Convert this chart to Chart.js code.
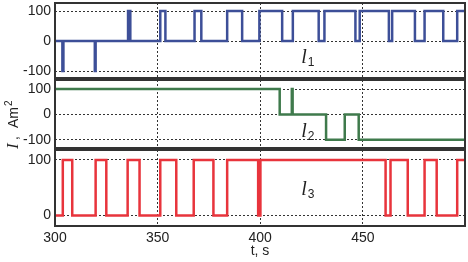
<!DOCTYPE html>
<html><head><meta charset="utf-8">
<script src="https://cdn.jsdelivr.net/npm/chart.js@4"></script>
<style>
body{margin:0;background:#fff;width:468px;height:262px;position:relative;overflow:hidden}
canvas{position:absolute;left:0}
</style></head><body>
<canvas id="c1" width="468" height="80" style="top:0"></canvas>
<canvas id="c2" width="468" height="72" style="top:78px"></canvas>
<canvas id="c3" width="468" height="114" style="top:148px"></canvas>
<script>
// shared x axis
const xMin = 300, xMax = 499.8;
const xTicks = [300, 350, 400, 450];

// l1 (blue)
const l1Time  = [300, 303.6, 304.1, 319.4, 319.8, 335.6, 336.7, 351.3, 353.8, 368.0, 371.3, 383.9, 391.2, 399.6, 410.7, 415.9, 428.5, 431.3, 446.4, 448.5, 462.7, 464.3, 475.4, 480.1, 489.2, 496.0, 499.8];
const l1Value = [0, -100, 0, -100, 0, 100, 0, 100, 0, 100, 0, 100, 0, 100, 0, 100, 0, 100, 0, 100, 0, 100, 0, 100, 0, 100, 100];
const l1Ticks = [-100, 0, 100];

// l2 (green)
const l2Time  = [300, 409.5, 415.4, 415.8, 432.1, 441.2, 448.0, 499.8];
const l2Value = [100, 0, 100, 0, -100, 0, -100, -100];
const l2Ticks = [-100, 0, 100];

// l3 (red)
const l3Time  = [300, 303.8, 308.4, 319.8, 325.0, 335.4, 341.2, 351.3, 359.1, 367.6, 377.2, 383.9, 399.0, 400.1, 461.1, 463.5, 471.9, 480.1, 486.0, 496.0, 499.8];
const l3Value = [0, 100, 0, 100, 0, 100, 0, 100, 0, 100, 0, 100, 0, 100, 0, 100, 0, 100, 0, 100, 100];
const l3Ticks = [0, 100];

Chart.defaults.font.family = "'Liberation Sans', Arial, sans-serif";
Chart.defaults.color = '#222';

// frame around plot area
const framePlugin = {
  id: 'frame',
  afterDraw(chart) {
    const a = chart.chartArea, ctx = chart.ctx;
    ctx.save();
    ctx.strokeStyle = '#333';
    ctx.lineWidth = 2;
    ctx.strokeRect(a.left, a.top, a.right - a.left, a.bottom - a.top);
    ctx.restore();
  }
};

// l_n label inside each panel
const seriesLabelPlugin = {
  id: 'seriesLabel',
  afterDraw(chart, args, o) {
    if (!o.text) return;
    const ctx = chart.ctx;
    const x = chart.scales.x.getPixelForValue(o.x);
    const y = chart.scales.y.getPixelForValue(o.y);
    ctx.save();
    ctx.fillStyle = '#222';
    ctx.textBaseline = 'alphabetic';
    ctx.font = "italic 20px 'Liberation Serif', serif";
    ctx.fillText(o.text, x, y + 6);
    const w = ctx.measureText(o.text).width;
    ctx.font = "12px 'Liberation Sans', Arial";
    ctx.fillText(o.sub, x + w + 1, y + 9);
    ctx.restore();
  }
};

// rotated y title "I, Am²"
const yTitlePlugin = {
  id: 'yTitle',
  afterDraw(chart, args, o) {
    if (!o.show) return;
    const ctx = chart.ctx;
    ctx.save();
    ctx.translate(18, 72);
    ctx.rotate(-Math.PI / 2);
    ctx.fillStyle = '#222';
    ctx.textBaseline = 'alphabetic';
    ctx.font = "italic 17px 'Liberation Serif', serif";
    ctx.fillText('I', 1, 0);
    ctx.font = "14px 'Liberation Sans', Arial";
    ctx.fillText(',', 10, 0);
    ctx.fillText('Am', 22, 0);
    const w = ctx.measureText('Am').width;
    ctx.font = "10px 'Liberation Sans', Arial";
    ctx.fillText('2', 22 + w + 1, -6);
    ctx.restore();
  }
};

function noPad(s) {
  s.paddingTop = 0; s.paddingBottom = 0; s.paddingLeft = 0; s.paddingRight = 0;
}

function makePanel(id, cfg) {
  const pts = cfg.time.map((t, i) => ({ x: t, y: cfg.value[i] }));
  const gridStyle = { color: '#333', lineWidth: 1, drawTicks: false };
  const borderStyle = { display: false, dash: [2, 2] };
  return new Chart(document.getElementById(id), {
    type: 'line',
    data: {
      datasets: [{
        data: pts,
        borderColor: cfg.color,
        borderWidth: 2.5,
        stepped: true,
        pointRadius: 0,
        fill: false
      }]
    },
    options: {
      responsive: false,
      animation: false,
      layout: { padding: { top: cfg.padTop, bottom: cfg.padBottom, left: 0, right: 3 } },
      plugins: {
        legend: { display: false },
        tooltip: { enabled: false },
        seriesLabel: cfg.label,
        yTitle: { show: !!cfg.yTitle }
      },
      scales: {
        x: {
          type: 'linear', min: xMin, max: xMax,
          afterBuildTicks: s => { s.ticks = xTicks.map(v => ({ value: v })); },
          afterFit: s => { s.height = cfg.showX ? 36 : 0; noPad(s); },
          grid: gridStyle, border: borderStyle,
          ticks: { display: cfg.showX, padding: 4, font: { size: 14 } },
          title: { display: cfg.showX, text: 't, s', font: { size: 14 }, padding: { top: 0, bottom: 2 } }
        },
        y: {
          min: cfg.min, max: cfg.max,
          afterBuildTicks: s => { s.ticks = cfg.ticks.map(v => ({ value: v })); },
          afterFit: s => { s.width = 55; noPad(s); },
          grid: gridStyle, border: borderStyle,
          ticks: { padding: 4, font: { size: 14 } }
        }
      }
    },
    plugins: [framePlugin, seriesLabelPlugin, yTitlePlugin]
  });
}

makePanel('c1', { time: l1Time, value: l1Value, ticks: l1Ticks, min: -123, max: 127, color: '#3d4f98',
  padTop: 3, padBottom: 2, showX: false, label: { text: 'l', sub: '1', x: 420, y: -53 } });
makePanel('c2', { time: l2Time, value: l2Value, ticks: l2Ticks, min: -133, max: 136, color: '#3f7a4c',
  padTop: 2, padBottom: 2, showX: false, yTitle: true, label: { text: 'l', sub: '2', x: 420, y: -66 } });
makePanel('c3', { time: l3Time, value: l3Value, ticks: l3Ticks, min: -19, max: 118, color: '#e8343c',
  padTop: 2, padBottom: 0, showX: true, label: { text: 'l', sub: '3', x: 420, y: 48 } });
</script>
</body></html>
